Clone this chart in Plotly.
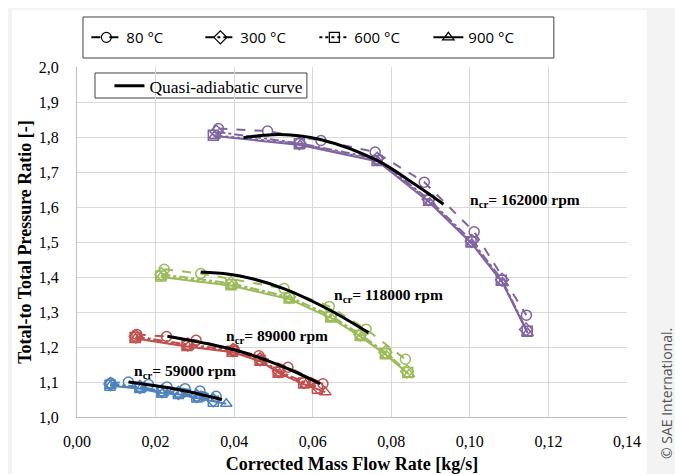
import plotly.graph_objects as go

# ---------------- data ----------------
x_ticks = [0.00, 0.02, 0.04, 0.06, 0.08, 0.10, 0.12, 0.14]
y_ticks = [1.0, 1.1, 1.2, 1.3, 1.4, 1.5, 1.6, 1.7, 1.8, 1.9, 2.0]

temps = ["80 °C", "300 °C", "600 °C", "900 °C"]
speeds = ["162000", "118000", "89000", "59000"]

# 162000 rpm
x162_80 = [0.0360, 0.0485, 0.0621, 0.0759, 0.0884, 0.1011, 0.1144]
y162_80 = [1.824, 1.817, 1.790, 1.757, 1.671, 1.529, 1.291]
x162_300 = [0.0355, 0.0566, 0.0764, 0.0895, 0.1005, 0.1082, 0.1143]
y162_300 = [1.815, 1.782, 1.738, 1.622, 1.503, 1.392, 1.250]
x162_600 = [0.0347, 0.0566, 0.0764, 0.0895, 0.1003, 0.1080, 0.1146]
y162_600 = [1.805, 1.781, 1.733, 1.619, 1.500, 1.391, 1.245]
x162_900 = [0.0350, 0.0568, 0.0766, 0.0898, 0.1005, 0.1083, 0.1147]
y162_900 = [1.803, 1.777, 1.730, 1.612, 1.495, 1.384, 1.240]
x162_qa = [0.0424, 0.0517, 0.0619, 0.0764, 0.0857, 0.0933]
y162_qa = [1.798, 1.807, 1.793, 1.733, 1.667, 1.608]

# 118000 rpm
x118_80 = [0.0222, 0.0315, 0.0527, 0.0642, 0.0736, 0.0836]
y118_80 = [1.422, 1.410, 1.367, 1.316, 1.251, 1.165]
x118_300 = [0.0215, 0.0392, 0.0540, 0.0646, 0.0721, 0.0785, 0.0840]
y118_300 = [1.408, 1.382, 1.343, 1.290, 1.236, 1.185, 1.130]
x118_600 = [0.0213, 0.0392, 0.0540, 0.0646, 0.0721, 0.0785, 0.0842]
y118_600 = [1.403, 1.378, 1.340, 1.286, 1.233, 1.181, 1.127]
x118_900 = [0.0214, 0.0394, 0.0542, 0.0648, 0.0723, 0.0788, 0.0845]
y118_900 = [1.400, 1.375, 1.336, 1.282, 1.229, 1.176, 1.122]
x118_qa = [0.0315, 0.0415, 0.0526, 0.0636, 0.0742]
y118_qa = [1.414, 1.403, 1.367, 1.310, 1.241]

# 89000 rpm
x89_80 = [0.0152, 0.0228, 0.0303, 0.0400, 0.0463, 0.0537, 0.0626]
y89_80 = [1.236, 1.230, 1.219, 1.193, 1.175, 1.142, 1.095]
x89_300 = [0.0150, 0.0282, 0.0397, 0.0466, 0.0514, 0.0578, 0.0614]
y89_300 = [1.230, 1.207, 1.191, 1.165, 1.131, 1.100, 1.085]
x89_600 = [0.0148, 0.0280, 0.0395, 0.0466, 0.0512, 0.0577, 0.0612]
y89_600 = [1.227, 1.204, 1.188, 1.162, 1.128, 1.097, 1.082]
x89_900 = [0.0149, 0.0283, 0.0398, 0.0469, 0.0516, 0.0582, 0.0632]
y89_900 = [1.224, 1.201, 1.185, 1.158, 1.124, 1.092, 1.071]
x89_qa = [0.0230, 0.0398, 0.0483, 0.0543, 0.0619]
y89_qa = [1.231, 1.193, 1.162, 1.135, 1.095]

# 59000 rpm
x59_80 = [0.0086, 0.0131, 0.0182, 0.0229, 0.0275, 0.0313, 0.0354]
y59_80 = [1.097, 1.100, 1.093, 1.086, 1.081, 1.074, 1.059]
x59_300 = [0.0085, 0.0160, 0.0216, 0.0258, 0.0305, 0.0347]
y59_300 = [1.094, 1.086, 1.074, 1.069, 1.060, 1.048]
x59_600 = [0.0084, 0.0160, 0.0216, 0.0258, 0.0305, 0.0347]
y59_600 = [1.091, 1.084, 1.071, 1.067, 1.057, 1.045]
x59_900 = [0.0085, 0.0162, 0.0218, 0.0261, 0.0310, 0.0380]
y59_900 = [1.089, 1.081, 1.068, 1.064, 1.053, 1.038]
x59_qa = [0.0131, 0.0250, 0.0369]
y59_qa = [1.100, 1.080, 1.050]

speed_labels_x = [0.0994, 0.0649, 0.0373, 0.0139]
speed_labels_y = [1.619, 1.348, 1.229, 1.129]

# ---------------- styles ----------------
colors = {"162000": "#8064A2", "118000": "#9BBB59", "89000": "#C0504D", "59000": "#4F81BD"}
dashes = {"80 °C": "dash", "300 °C": "dashdot", "600 °C": "dot", "900 °C": "solid"}
symbols = {"80 °C": "circle-open", "300 °C": "diamond-open",
           "600 °C": "square-open", "900 °C": "triangle-up-open"}

series = {
    "162000": {"80 °C": (x162_80, y162_80), "300 °C": (x162_300, y162_300),
               "600 °C": (x162_600, y162_600), "900 °C": (x162_900, y162_900),
               "qa": (x162_qa, y162_qa)},
    "118000": {"80 °C": (x118_80, y118_80), "300 °C": (x118_300, y118_300),
               "600 °C": (x118_600, y118_600), "900 °C": (x118_900, y118_900),
               "qa": (x118_qa, y118_qa)},
    "89000": {"80 °C": (x89_80, y89_80), "300 °C": (x89_300, y89_300),
              "600 °C": (x89_600, y89_600), "900 °C": (x89_900, y89_900),
              "qa": (x89_qa, y89_qa)},
    "59000": {"80 °C": (x59_80, y59_80), "300 °C": (x59_300, y59_300),
              "600 °C": (x59_600, y59_600), "900 °C": (x59_900, y59_900),
              "qa": (x59_qa, y59_qa)},
}

fig = go.Figure()

for sp in speeds:
    for t in temps:
        xs, ys = series[sp][t]
        fig.add_trace(go.Scatter(
            x=xs, y=ys, mode="lines+markers", showlegend=False,
            line=dict(color=colors[sp], width=2, dash=dashes[t]),
            marker=dict(symbol=symbols[t], size=10, color=colors[sp],
                        line=dict(width=1.5, color=colors[sp])),
            name=f"{t} {sp}"))
    xs, ys = series[sp]["qa"]
    fig.add_trace(go.Scatter(
        x=xs, y=ys, mode="lines", showlegend=False,
        line=dict(color="black", width=3, shape="spline"), name="qa " + sp))

# legend-only entries (black)
for t in temps:
    fig.add_trace(go.Scatter(
        x=[None], y=[None], mode="lines+markers", name=t, legend="legend",
        line=dict(color="black", width=2, dash=dashes[t]),
        marker=dict(symbol=symbols[t], size=10, color="black",
                    line=dict(width=1.2, color="black"))))
fig.add_trace(go.Scatter(
    x=[None], y=[None], mode="lines", name="Quasi-adiabatic curve", legend="legend2",
    line=dict(color="black", width=3)))

for sp, lx, ly in zip(speeds, speed_labels_x, speed_labels_y):
    fig.add_annotation(
        x=lx, y=ly, xref="x", yref="y", xanchor="left", yanchor="middle",
        text=f"<b>n<sub>cr</sub>= {sp} rpm</b>", showarrow=False,
        font=dict(family="Liberation Serif", size=15.5, color="black"))

# card background and boxes
shapes = [
    dict(type="rect", xref="paper", yref="paper", x0=-0.118, x1=1.036, y0=-0.2, y1=1.163,
         fillcolor="white", line=dict(width=0), layer="below"),
    dict(type="rect", xref="paper", yref="paper", x0=0.0109, x1=0.867, y0=1.0257, y1=1.1429,
         fillcolor="rgba(0,0,0,0)", line=dict(color="#404040", width=1)),
    dict(type="rect", xref="paper", yref="paper", x0=0.0327, x1=0.418, y0=0.9114, y1=0.9829,
         fillcolor="white", line=dict(color="#404040", width=1), layer="below"),
]

fig.add_annotation(
    x=1.073, y=0.066, xref="paper", yref="paper", text="© SAE International.",
    textangle=-90, showarrow=False, xanchor="center", yanchor="middle",
    font=dict(family="Open Sans", size=14, color="#555555"))

fig.update_layout(
    width=683, height=474,
    margin=dict(l=69, r=64, t=59, b=65, autoexpand=False),
    paper_bgcolor="#f3f3f3", plot_bgcolor="rgba(0,0,0,0)",
    separators=",.",
    shapes=shapes,
    legend=dict(orientation="h", x=0.017, y=1.084, xanchor="left", yanchor="middle",
                bgcolor="rgba(0,0,0,0)", borderwidth=0,
                entrywidth=69, entrywidthmode="pixels",
                font=dict(family="Open Sans", size=15, color="black")),
    legend2=dict(orientation="h", x=0.059, y=0.946, xanchor="left", yanchor="middle",
                 bgcolor="rgba(0,0,0,0)", borderwidth=0,
                 font=dict(family="Liberation Serif", size=17.5, color="black")),
    xaxis=dict(range=[0, 0.14], tickvals=x_ticks, tickformat=".2f",
               showgrid=True, gridcolor="#d9d9d9", gridwidth=1,
               showline=True, linecolor="#bfbfbf", linewidth=1, zeroline=False,
               ticks="", ticklabelstandoff=10,
               tickfont=dict(family="Liberation Serif", size=16, color="black"),
               title=dict(text="<b>Corrected Mass Flow Rate [kg/s]</b>", standoff=8,
                          font=dict(family="Liberation Serif", size=18, color="black"))),
    yaxis=dict(range=[1.0, 2.0], tickvals=y_ticks, tickformat=".1f",
               showgrid=True, gridcolor="#d9d9d9", gridwidth=1,
               showline=True, linecolor="#bfbfbf", linewidth=1, zeroline=False,
               ticks="", ticklabelstandoff=14,
               tickfont=dict(family="Liberation Serif", size=16, color="black"),
               title=dict(text="<b>Total-to Total Pressure Ratio [-]</b>", standoff=2,
                          font=dict(family="Liberation Serif", size=18, color="black"))),
)

fig.write_html("out.html")
